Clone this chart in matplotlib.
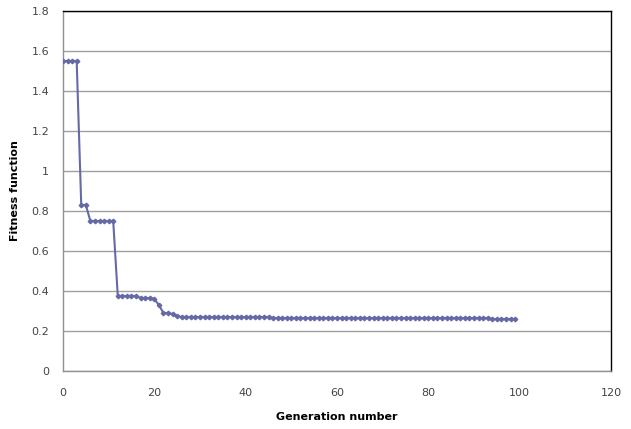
import matplotlib
matplotlib.use("Agg")
import matplotlib.pyplot as plt

# Fitness value for every generation
generations = list(range(100))
fitness = [
    1.55, 1.55, 1.55, 1.55,
    0.83, 0.83,
    0.75, 0.75, 0.75, 0.75, 0.75, 0.75,
    0.375, 0.375, 0.375, 0.375, 0.375,
    0.365, 0.365, 0.365,
    0.36, 0.33, 0.29, 0.29, 0.285, 0.275,
    0.27, 0.27, 0.27, 0.27, 0.27, 0.27, 0.27, 0.27, 0.27, 0.27,
    0.27, 0.27, 0.27, 0.27, 0.27, 0.27, 0.27, 0.27, 0.27, 0.27,
    0.265, 0.265, 0.265, 0.265, 0.265, 0.265, 0.265, 0.265, 0.265, 0.265,
    0.265, 0.265, 0.265, 0.265, 0.265, 0.265, 0.265, 0.265, 0.265, 0.265,
    0.265, 0.265, 0.265, 0.265, 0.265, 0.265, 0.265, 0.265, 0.265, 0.265,
    0.265, 0.265, 0.265, 0.265, 0.265, 0.265, 0.265, 0.265, 0.265, 0.265,
    0.265, 0.265, 0.265, 0.265, 0.265, 0.265, 0.265, 0.265,
    0.26, 0.26, 0.26, 0.26, 0.26, 0.26,
]

x_ticks = [0, 20, 40, 60, 80, 100, 120]
y_ticks = [0, 0.2, 0.4, 0.6, 0.8, 1, 1.2, 1.4, 1.6, 1.8]
y_tick_labels = ["0", "0.2", "0.4", "0.6", "0.8", "1", "1.2", "1.4", "1.6", "1.8"]

fig = plt.figure(figsize=(6.31, 4.29), dpi=100)
ax = fig.add_axes([0.0998, 0.1352, 0.8686, 0.8392])

ax.plot(generations, fitness, color="#656aa6", linewidth=1.5,
        marker="D", markersize=2.3, markerfacecolor="#656aa6",
        markeredgecolor="#656aa6", zorder=3)

ax.set_xlim(0, 120)
ax.set_ylim(0, 1.8)
ax.set_xticks(x_ticks)
ax.set_yticks(y_ticks)
ax.set_yticklabels(y_tick_labels)

ax.grid(axis="y", color="#a0a0a0", linewidth=1)
ax.set_axisbelow(True)

ax.spines["top"].set_color("black")
ax.spines["right"].set_color("black")
ax.spines["left"].set_color("#909090")
ax.spines["bottom"].set_color("#909090")
for s in ax.spines.values():
    s.set_linewidth(1)

ax.tick_params(axis="y", length=0, labelsize=8, labelcolor="#444444", pad=10)
ax.tick_params(axis="x", length=0, labelsize=8, labelcolor="#444444", pad=12)

ax.set_xlabel("Generation number", fontsize=8, fontweight="bold", labelpad=10)
ax.set_ylabel("Fitness function", fontsize=8, fontweight="bold", labelpad=8)

fig.savefig("out.png", dpi=100)
